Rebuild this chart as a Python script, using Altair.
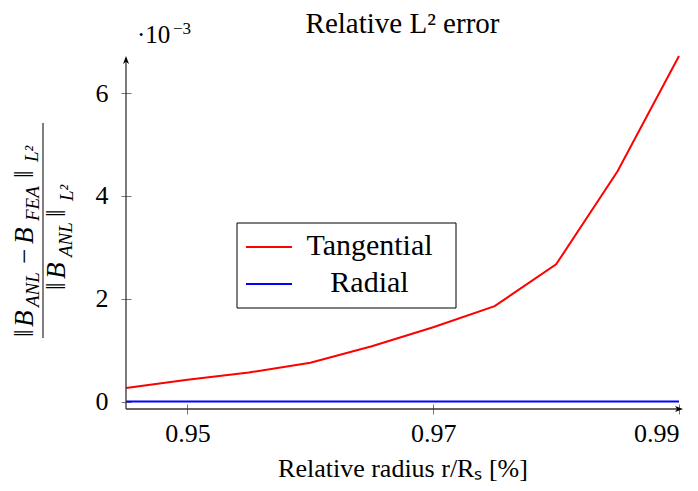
import altair as alt
import pandas as pd

# ---------------- data ----------------
radius = [0.945, 0.95, 0.955, 0.96, 0.965, 0.97, 0.975, 0.98, 0.985, 0.99]
tangential = [0.27, 0.43, 0.57, 0.76, 1.08, 1.45, 1.86, 2.67, 4.48, 6.72]   # x 1e-3
radial = [0.004, 0.004, 0.004, 0.004, 0.004, 0.004, 0.004, 0.004, 0.004, 0.004]  # x 1e-3
series_names = ["Tangential", "Radial"]
series_colors = ["#ff0000", "#0000ff"]
x_ticks = [0.95, 0.97, 0.99]
y_ticks = [0, 2, 4, 6]
x_domain = [0.945, 0.99]
y_domain = [-0.14, 6.72]

rows = []
for r, t, d in zip(radius, tangential, radial):
    rows.append({"r": r, "err": t, "series": "Tangential"})
    rows.append({"r": r, "err": d, "series": "Radial"})
df = pd.DataFrame(rows)

W, H = 553, 353
SERIF = "Liberation Serif"
AXC = "#333333"

one = alt.Data(values=[{"k": 0}])


def txt(s, x, y, size, angle=0, italic=False, align="left", baseline="alphabetic"):
    return alt.Chart(one).mark_text(
        text=s, fontSize=size, font=SERIF,
        fontStyle="italic" if italic else "normal",
        angle=angle, align=align, baseline=baseline, color="black",
    ).encode(x=alt.value(x), y=alt.value(y))


def rule(x, x2, y, y2, color="black", width=1.0):
    return alt.Chart(one).mark_rule(color=color, strokeWidth=width).encode(
        x=alt.value(x), x2=alt.value(x2), y=alt.value(y), y2=alt.value(y2))


x_enc = alt.X(
    "r:Q",
    scale=alt.Scale(domain=x_domain, nice=False, zero=False),
    axis=alt.Axis(values=x_ticks, format=".2f", title="Relative radius r/Rₛ [%]",
                  labelFont=SERIF, labelPadding=6, titlePadding=9, titleFontSize=26,
                  titleFont=SERIF, titleFontWeight="normal", titleColor="black"),
)
y_enc = alt.Y(
    "err:Q",
    scale=alt.Scale(domain=y_domain, nice=False, zero=False),
    axis=alt.Axis(values=y_ticks, format="d", title=None, labelFont=SERIF, labelPadding=13),
)
color_enc = alt.Color(
    "series:N",
    scale=alt.Scale(domain=series_names, range=series_colors),
    legend=None,
)

lines = alt.Chart(df).mark_line(strokeWidth=2).encode(x_enc, y_enc, color_enc)

# axis lines with arrow heads
x_axis_line = rule(0, 554, H, H, AXC, 1.3)
y_axis_line = rule(0, 0, H, 3, AXC, 1.3)
arrow_r = alt.Chart(one).mark_point(
    shape="M 1 0 L -1 -0.75 L -0.45 0 L -1 0.75 Z", filled=True, color="black",
    size=64, opacity=1,
).encode(x=alt.value(W), y=alt.value(H))
arrow_u = alt.Chart(one).mark_point(
    shape="M 0 -1 L -0.75 1 L 0 0.45 L 0.75 1 Z", filled=True, color="black",
    size=64, opacity=1,
).encode(x=alt.value(0), y=alt.value(4))

# title and scale factor
title = txt("Relative L² error", 276.5, -23, 29, align="center")
factor = txt("·10", 11, -13, 25)
factor_exp = txt("−3", 47, -22, 17)

# y-axis fraction label (rotated)
frac = [
    txt("‖", -93, 281, 27, angle=270),
    txt("B", -93, 271, 27, angle=270, italic=True),
    txt("ANL", -87, 251, 19, angle=270, italic=True),
    txt("−", -93, 208, 27, angle=270),
    txt("B", -93, 188, 27, angle=270, italic=True),
    txt("FEA", -87, 165, 19, angle=270, italic=True),
    txt("‖", -93, 122, 27, angle=270),
    txt("L²", -88, 106, 19, angle=270, italic=True),
    txt("‖", -61, 234, 27, angle=270),
    txt("B", -61, 223, 27, angle=270, italic=True),
    txt("ANL", -54, 201, 19, angle=270, italic=True),
    txt("‖", -61, 161, 27, angle=270),
    txt("L²", -53, 145, 19, angle=270, italic=True),
    rule(-83, -83, 67, 282, "black", 1.0),
]

# legend box
legend_box = alt.Chart(one).mark_rect(fill="white", stroke="black", strokeWidth=1).encode(
    x=alt.value(111), x2=alt.value(330), y=alt.value(167), y2=alt.value(252))
legend = [
    legend_box,
    rule(120, 166, 191, 191, series_colors[0], 2),
    rule(120, 166, 228, 228, series_colors[1], 2),
    txt(series_names[0], 243.5, 199, 30, align="center"),
    txt(series_names[1], 243.5, 236, 30, align="center"),
]

chart = alt.layer(
    lines, x_axis_line, y_axis_line, arrow_r, arrow_u, title, factor, factor_exp,
    *frac, *legend,
).properties(
    width=W, height=H,
    autosize=alt.AutoSizeParams(type="none"),
    padding={"left": 118, "top": 48, "right": 11, "bottom": 74},
).configure(font=SERIF).configure_view(stroke=None).configure_axis(
    domain=False, grid=False, tickSize=10, offset=-5, tickColor="#777777",
    tickWidth=1, labelFont=SERIF, labelFontSize=26, labelColor="black",
)

chart.save("out.html", embed_options={"renderer": "svg", "actions": False})
